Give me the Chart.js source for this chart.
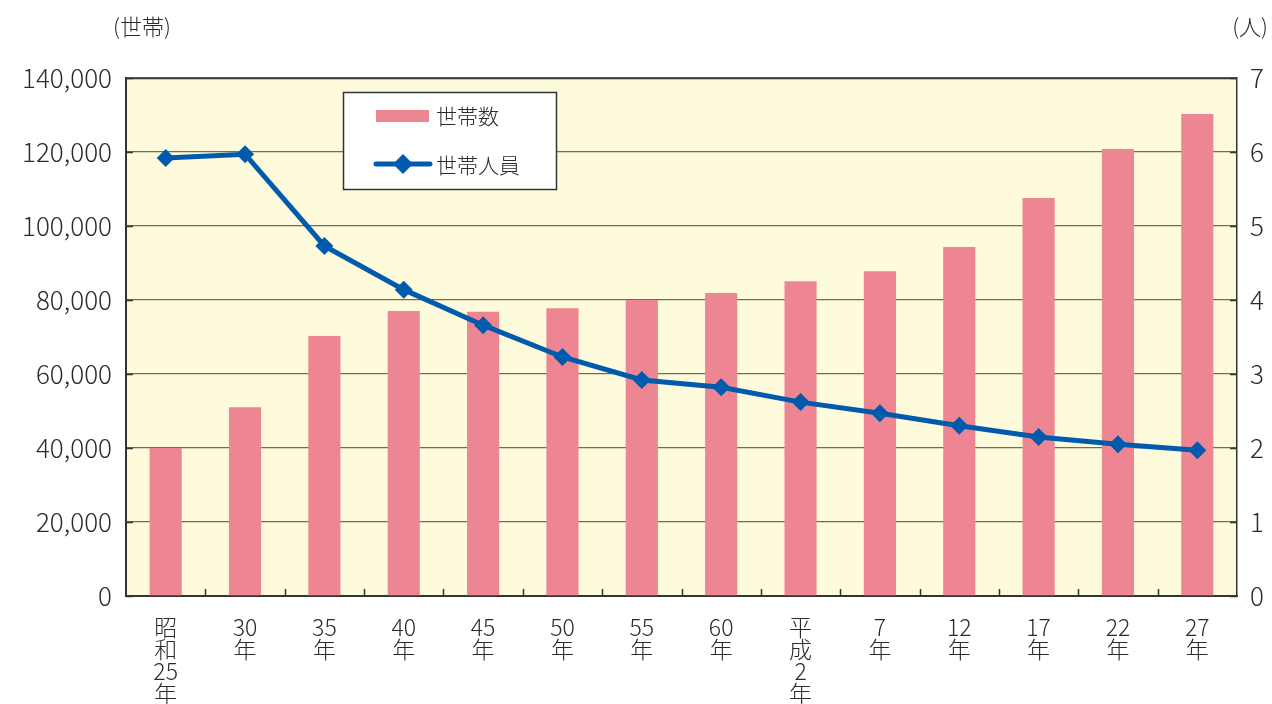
<!DOCTYPE html>
<html>
<head>
<meta charset="utf-8">
<script src="https://cdn.jsdelivr.net/npm/chart.js@4.4.1/dist/chart.umd.min.js"></script>
<style>
  html, body { margin: 0; padding: 0; background: #ffffff; }
  #wrap { width: 1272px; height: 704px; position: relative; }
</style>
</head>
<body>
<div id="wrap"><canvas id="chart"></canvas></div>
<script>
// Categories (years)
const years = [
    ['昭', '和', '25', '年'], ['30', '年'], ['35', '年'], ['40', '年'], ['45', '年'],
    ['50', '年'], ['55', '年'], ['60', '年'], ['平', '成', '2', '年'], ['7', '年'],
    ['12', '年'], ['17', '年'], ['22', '年'], ['27', '年']
];
// 世帯数 (households)
const households = [40000, 51000, 70300, 77000, 76800, 77800, 80000, 81900, 85100, 87800, 94300, 107600, 120800, 130300];
// 世帯人員 (persons per household)
const persons = [5.92, 5.97, 4.73, 4.14, 3.66, 3.23, 2.92, 2.82, 2.62, 2.47, 2.30, 2.15, 2.05, 1.97];

const leftUnit = '(世帯)';
const rightUnit = '(人)';

const FONT = '"Noto Sans CJK JP", "Noto Sans", sans-serif';
const BAR_COLOR = '#EE8593';
const LINE_COLOR = '#005BAC';
const TEXT_COLOR = '#2b2b2b';

// Plot background
const plotBackground = {
    id: 'plotBackground',
    beforeDraw(chart) {
        const { ctx, chartArea } = chart;
        ctx.save();
        ctx.fillStyle = '#FEFADC';
        ctx.fillRect(chartArea.left, chartArea.top, chartArea.right - chartArea.left, chartArea.bottom - chartArea.top);
        ctx.restore();
    }
};

// Inner tick marks, top border, unit labels and the boxed legend
const decorations = {
    id: 'decorations',
    afterDatasetsDraw(chart) {
        const { ctx, chartArea, scales } = chart;
        ctx.save();
        ctx.strokeStyle = '#333333';
        ctx.lineWidth = 1.5;
        // x ticks between categories (pointing up)
        const x = scales.x;
        const half = (x.getPixelForValue(1) - x.getPixelForValue(0)) / 2;
        for (let i = 0; i < years.length - 1; i++) {
            const px = Math.round(x.getPixelForValue(i) + half) + 0.5;
            ctx.beginPath();
            ctx.moveTo(px, chartArea.bottom);
            ctx.lineTo(px, chartArea.bottom - 7);
            ctx.stroke();
        }
        // y ticks (inside)
        scales.y.ticks.forEach(t => {
            const py = Math.round(scales.y.getPixelForValue(t.value)) + 0.5;
            ctx.beginPath();
            ctx.moveTo(chartArea.left, py);
            ctx.lineTo(chartArea.left + 7, py);
            ctx.stroke();
        });
        scales.y1.ticks.forEach(t => {
            const py = Math.round(scales.y1.getPixelForValue(t.value)) + 0.5;
            ctx.beginPath();
            ctx.moveTo(chartArea.right, py);
            ctx.lineTo(chartArea.right - 7, py);
            ctx.stroke();
        });
        // top border
        ctx.beginPath();
        ctx.moveTo(chartArea.left, chartArea.top + 0.5);
        ctx.lineTo(chartArea.right, chartArea.top + 0.5);
        ctx.stroke();

        // unit labels
        ctx.fillStyle = TEXT_COLOR;
        ctx.font = '300 22px ' + FONT;
        ctx.textBaseline = 'middle';
        ctx.textAlign = 'left';
        ctx.fillText(leftUnit, 113, 27);
        ctx.textAlign = 'right';
        ctx.fillText(rightUnit, 1268, 27);

        // legend box
        const lx = 343, ly = 92, lw = 213, lh = 97;
        ctx.fillStyle = '#ffffff';
        ctx.fillRect(lx, ly, lw, lh);
        ctx.strokeStyle = '#333333';
        ctx.lineWidth = 1.5;
        ctx.strokeRect(lx + 0.5, ly + 0.5, lw, lh);

        const ds = chart.data.datasets;
        // bar swatch
        ctx.fillStyle = ds[1].backgroundColor;
        ctx.fillRect(376, 110, 53, 12);
        // line swatch
        ctx.strokeStyle = ds[0].borderColor;
        ctx.lineWidth = 5;
        ctx.lineCap = 'round';
        ctx.beginPath();
        ctx.moveTo(376, 164);
        ctx.lineTo(430, 164);
        ctx.stroke();
        ctx.fillStyle = ds[0].borderColor;
        ctx.beginPath();
        ctx.moveTo(403, 154);
        ctx.lineTo(413, 164);
        ctx.lineTo(403, 174);
        ctx.lineTo(393, 164);
        ctx.closePath();
        ctx.fill();

        ctx.fillStyle = TEXT_COLOR;
        ctx.font = '300 21px ' + FONT;
        ctx.textAlign = 'left';
        ctx.fillText(ds[1].label, 436, 116);
        ctx.fillText(ds[0].label, 436, 165);
        ctx.restore();
    }
};

new Chart(document.getElementById('chart'), {
    data: {
        labels: years,
        datasets: [
            {
                type: 'line',
                label: '世帯人員',
                data: persons,
                yAxisID: 'y1',
                borderColor: LINE_COLOR,
                backgroundColor: LINE_COLOR,
                borderWidth: 5,
                pointStyle: 'rectRot',
                pointRadius: 9,
                pointBackgroundColor: LINE_COLOR,
                pointBorderWidth: 0,
                tension: 0,
                order: 1
            },
            {
                type: 'bar',
                label: '世帯数',
                data: households,
                yAxisID: 'y',
                backgroundColor: BAR_COLOR,
                categoryPercentage: 1,
                barPercentage: 0.405,
                order: 2
            }
        ]
    },
    options: {
        responsive: true,
        maintainAspectRatio: false,
        animation: false,
        layout: { padding: { top: 78, left: 0, right: 0, bottom: 0 } },
        plugins: {
            legend: { display: false },
            tooltip: { enabled: false }
        },
        scales: {
            x: {
                type: 'category',
                offset: true,
                grid: { display: false },
                border: { display: true, color: '#333333', width: 2 },
                ticks: {
                    color: TEXT_COLOR,
                    font: { family: FONT, size: 23, weight: 300, lineHeight: 0.96 },
                    padding: 12,
                    maxRotation: 0,
                    autoSkip: false
                },
                afterFit(scale) { scale.height = 108; }
            },
            y: {
                position: 'left',
                min: 0,
                max: 140000,
                grid: { color: '#6e6d5a', lineWidth: 1.3, drawTicks: false },
                border: { display: true, color: '#333333', width: 2 },
                ticks: {
                    stepSize: 20000,
                    color: TEXT_COLOR,
                    font: { family: FONT, size: 26, weight: 300 },
                    padding: 14,
                    callback: v => v.toLocaleString('en-US')
                },
                afterFit(scale) { scale.width = 126; }
            },
            y1: {
                position: 'right',
                min: 0,
                max: 7,
                grid: { drawOnChartArea: false, drawTicks: false },
                border: { display: true, color: '#333333', width: 1.5 },
                ticks: {
                    stepSize: 1,
                    color: TEXT_COLOR,
                    font: { family: FONT, size: 26, weight: 300 },
                    padding: 13
                },
                afterFit(scale) { scale.width = 35; }
            }
        }
    },
    plugins: [plotBackground, decorations]
});
</script>
</body>
</html>
